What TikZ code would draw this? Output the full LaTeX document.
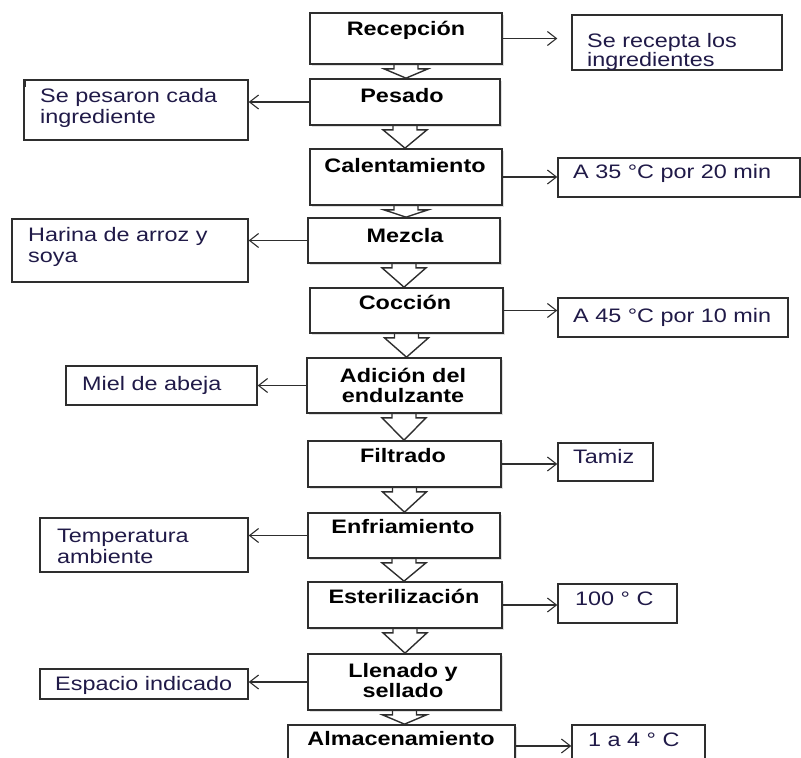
\documentclass[tikz,border=0pt]{standalone}
\usepackage{fontspec}
\setmainfont{Liberation Sans}
\newfontfamily\stepfont{Liberation Sans}[FakeStretch=1.2]
\newfontfamily\notefont{Liberation Sans}[FakeStretch=1.2]
\usetikzlibrary{fit,calc,shadows,arrows.meta}
\definecolor{edge}{HTML}{2E2E2E}
\definecolor{notecol}{RGB}{32,26,72}
\tikzset{
  stepbox/.style={draw=edge, line width=1.7pt, fill=white, inner sep=0pt,
    drop shadow={opacity=0.25, shadow xshift=1.5pt, shadow yshift=-1.5pt}},
  notebox/.style={draw=edge, line width=1.4pt, fill=white, inner sep=0pt},
  steptext/.style={font=\stepfont\bfseries\fontsize{19.5}{20.5}\selectfont,
    inner sep=0pt, anchor=base},
  notetext/.style={font=\notefont\fontsize{19.5}{21}\selectfont, text=notecol,
    inner sep=0pt, anchor=base west},
  conn/.style={draw=edge, line width=1.1pt,
    -{Straight Barb[length=9pt,width=14pt,line width=1.1pt]}},
  flow/.style={draw=edge, line width=1.4pt, line join=miter},
}
% hollow block arrow from the bottom of one step to the top of the next
\newcommand\flowarrow[2]{%
  \draw[flow] let \p1=(#1.south), \p2=(#2.north) in
    (\x1-12pt,\y1) -- (\x1-12pt,\y1-4pt) -- (\x1-22pt,\y1-4pt) -- (\x1,\y2)
    -- (\x1+22pt,\y1-4pt) -- (\x1+12pt,\y1-4pt) -- (\x1+12pt,\y1);}
\newcommand\twolines[3]{\parbox[t]{#1}{#2\\#3}}

\begin{document}
\begin{tikzpicture}[x=1pt,y=-1pt]
\useasboundingbox (0,0) rectangle (801,758);
\clip (0,0) rectangle (801,758);

% process steps
\node[stepbox, fit={(310,13)(502,64)}]   (rec) {};
\node[stepbox, fit={(310,79)(500,125)}]  (pes) {};
\node[stepbox, fit={(310,149)(502,205)}] (cal) {};
\node[stepbox, fit={(308,218)(500,263)}] (mez) {};
\node[stepbox, fit={(310,288)(503,333)}] (coc) {};
\node[stepbox, fit={(307,358)(501,413)}] (adi) {};
\node[stepbox, fit={(308,441)(501,487)}] (fil) {};
\node[stepbox, fit={(308,513)(500,558)}] (enf) {};
\node[stepbox, fit={(308,582)(502,628)}] (est) {};
\node[stepbox, fit={(308,654)(501,710)}] (lle) {};
\node[stepbox, fit={(288,725)(515,775)}] (alm) {};

\node[steptext] (rec-t) at (406,35)  {Recepción};
\node[steptext] (pes-t) at (402,102) {Pesado};
\node[steptext] (cal-t) at (405,172) {Calentamiento};
\node[steptext] (mez-t) at (405,242) {Mezcla};
\node[steptext] (coc-t) at (405,309) {Cocción};
\node[steptext] (adi-t) at (403,382) {\twolines{190pt}{\centering Adición del}{endulzante}};
\node[steptext] (fil-t) at (403,462) {Filtrado};
\node[steptext] (enf-t) at (403,533) {Enfriamiento};
\node[steptext] (est-t) at (404,603) {Esterilización};
\node[steptext] (lle-t) at (403,677) {\twolines{190pt}{\centering Llenado y}{sellado}};
\node[steptext] (alm-t) at (401,745) {Almacenamiento};

% block arrows between steps
\flowarrow{rec}{pes}
\flowarrow{pes}{cal}
\flowarrow{cal}{mez}
\flowarrow{mez}{coc}
\flowarrow{coc}{adi}
\flowarrow{adi}{fil}
\flowarrow{fil}{enf}
\flowarrow{enf}{est}
\flowarrow{est}{lle}
\flowarrow{lle}{alm}

% notes
\node[notebox, fit={(572,15)(782,70)}]   (sr)   {};
\node[notebox, fit={(24,80)(248,140)}]   (sp)   {};
\node[notebox, fit={(558,158)(800,197)}] (a35)  {};
\node[notebox, fit={(12,219)(248,282)}]  (har)  {};
\node[notebox, fit={(558,298)(788,337)}] (a45)  {};
\node[notebox, fit={(66,366)(257,405)}]  (miel) {};
\node[notebox, fit={(558,443)(653,481)}] (tam)  {};
\node[notebox, fit={(40,518)(248,572)}]  (temp) {};
\node[notebox, fit={(558,584)(677,623)}] (c100) {};
\node[notebox, fit={(40,669)(248,699)}]  (esp)  {};
\node[notebox, fit={(572,725)(705,775)}] (c14)  {};
\fill[edge] (sp.north west) rectangle ++(2.5,8);

\node[notetext, font=\notefont\fontsize{19.5}{19}\selectfont]
                (sr-t)   at (587,47)  {\twolines{200pt}{Se recepta los}{ingredientes}};
\node[notetext] (sp-t)   at (40,102)  {\twolines{200pt}{Se pesaron cada}{ingrediente}};
\node[notetext] (a35-t)  at (573,178) {A 35 °C por 20 min};
\node[notetext] (har-t)  at (28,241)  {\twolines{220pt}{Harina de arroz y}{soya}};
\node[notetext] (a45-t)  at (573,322) {A 45 °C por 10 min};
\node[notetext] (miel-t) at (82,390)  {Miel de abeja};
\node[notetext] (tam-t)  at (573,463) {Tamiz};
\node[notetext] (temp-t) at (57,542)  {\twolines{200pt}{Temperatura}{ambiente}};
\node[notetext] (c100-t) at (575,605) {100 ° C};
\node[notetext] (esp-t)  at (55,690)  {Espacio indicado};
\node[notetext] (c14-t)  at (588,746) {1 a 4 ° C};

% connectors to the notes
\draw[conn, shorten >=14pt] (rec.east) -- (rec.east -| sr.west);
\draw[conn] (pes.west) -- (pes.west -| sp.east);
\draw[conn] (cal.east) -- (cal.east -| a35.west);
\draw[conn] (mez.west) -- (mez.west -| har.east);
\draw[conn] (coc.east) -- (coc.east -| a45.west);
\draw[conn] (adi.west) -- (adi.west -| miel.east);
\draw[conn] (fil.east) -- (fil.east -| tam.west);
\draw[conn] (enf.west) -- (enf.west -| temp.east);
\draw[conn] (est.east) -- (est.east -| c100.west);
\draw[conn] (lle.west) -- (lle.west -| esp.east);
\draw[conn] (alm.east |- c14-t.base) -- (c14-t.base -| c14.west);
\end{tikzpicture}
\end{document}
